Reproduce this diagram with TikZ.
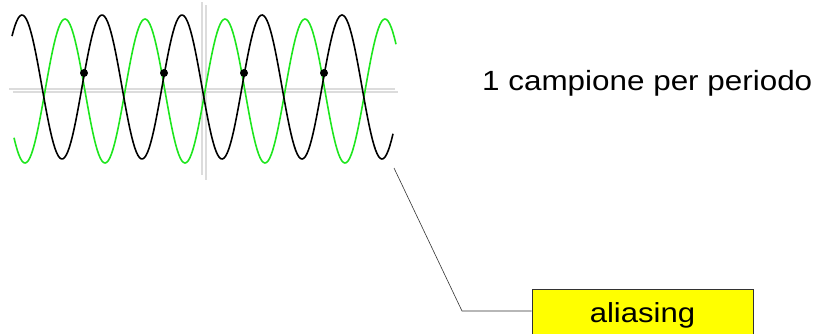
\documentclass[tikz,border=0pt]{standalone}
\usepackage{fontspec}
\setmainfont{Liberation Sans}
\usepackage{tikz}
\usetikzlibrary{positioning}
\definecolor{wavegreen}{HTML}{1EE61E}
\definecolor{axisgray}{HTML}{DCDCDC}
\definecolor{calloutyellow}{HTML}{FFFF00}

\begin{document}
\begin{tikzpicture}[
x=1pt, y=-1pt,
axis/.style={draw=axisgray, line width=1.1pt},
wave/.style={line width=1.6pt},
sample/.style={circle, fill=black, inner sep=0pt, minimum size=8pt},
caption/.style={font=\fontsize{27.8pt}{30pt}\selectfont, xscale=1.13, transform shape, inner sep=0pt},
callout/.style={draw=black!80, fill=calloutyellow, line width=0.6pt, inner sep=0pt, minimum width=221pt, text height=33pt, text depth=20pt, font=\fontsize{27.5pt}{30pt}\selectfont}
]
\useasboundingbox (0,0) rectangle (824,333);
% axes
\draw[axis] (9,89) -- (395,89);
\draw[axis] (13,92) -- (398,92);
\draw[axis] (202,2) -- (202,175);
\draw[axis] (206,5) -- (206,180);
% waves (period 80pt -> 4.5 deg per pt)
\draw[wave, wavegreen] plot[domain=14:396, samples=240] (\x, {91-72*cos(4.5*(\x-65))});
\draw[wave, black] plot[domain=12:393, samples=240] (\x, {87-72*cos(4.5*(\x-22))});
% samples, one per period
\foreach \i in {1,...,4}
  \node[sample] (s\i) at ({4+80*\i},73) {};
\node[caption, anchor=base west] (rate) at (482,90) {1 campione per periodo};
\node[callout, anchor=base] (alias) at (642.5,322) {\scalebox{1.13}[1]{aliasing}};
\coordinate (tip) at (394,168);
\coordinate (bend) at (462,311);
\draw[black!80, line width=0.6pt] (tip) -- (bend) -- (bend -| alias.west);
\end{tikzpicture}
\end{document}
